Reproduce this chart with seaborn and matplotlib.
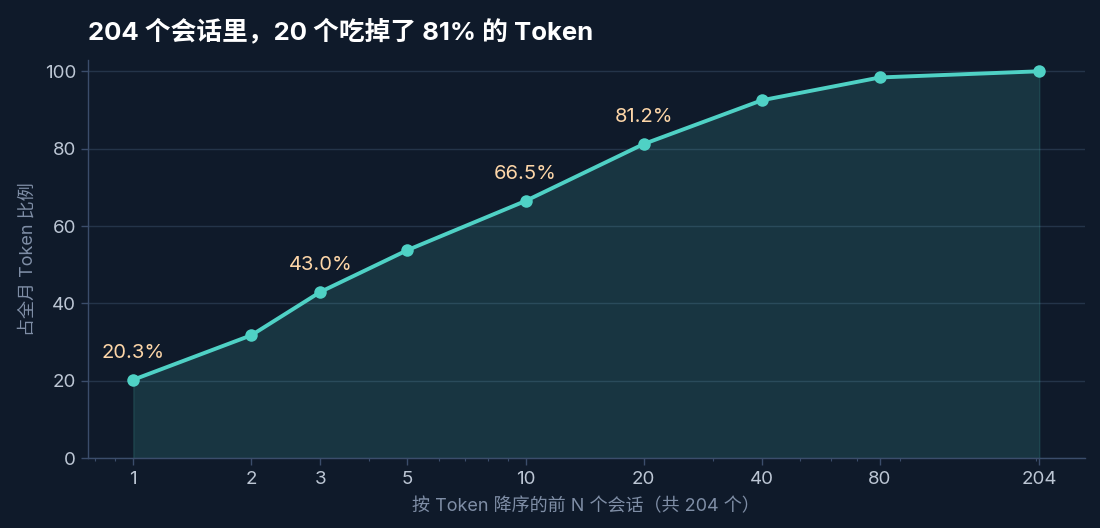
import matplotlib
matplotlib.use("Agg")
import matplotlib.pyplot as plt
import seaborn as sns
import pandas as pd
import numpy as np
from matplotlib.ticker import FixedLocator, FixedFormatter, LogLocator, NullFormatter

top_n = [1, 2, 3, 5, 10, 20, 40, 80, 204]
share = [20.3, 31.8, 43.0, 53.8, 66.5, 81.2, 92.5, 98.4, 100.0]
label_n = [1, 3, 10, 20]
tick_labels = ["1", "2", "3", "5", "10", "20", "40", "80", "204"]

title = "204 个会话里，20 个吃掉了 81% 的 Token"
xlabel = "按 Token 降序的前 N 个会话（共 204 个）"
ylabel = "占全月 Token 比例"

BG = "#0f1a2a"
LINE = "#4fd1c5"
GRID = "#243449"
SPINE = "#3b4d6b"
TICK = "#bcc6d4"
LAB = "#7f8ea6"
ANN = "#fdd6a8"

sns.set_theme(style="dark")
plt.rcParams['font.family'] = ['Inter', 'Noto Sans CJK SC', 'DejaVu Sans']

df = pd.DataFrame({"n": top_n, "share": share})

fig = plt.figure(figsize=(11, 5.28), dpi=100, facecolor=BG)
ax = fig.add_axes([0.08, 0.132, 0.906, 0.755])
ax.set_facecolor(BG)

ax.fill_between(df["n"], 0, df["share"], color=LINE, alpha=0.15, linewidth=1, edgecolor=(0.31, 0.82, 0.77, 0.15))
sns.lineplot(data=df, x="n", y="share", ax=ax, color=LINE, linewidth=2.8,
             marker="o", markersize=9, markeredgewidth=0, markerfacecolor=LINE)

ax.set_xscale("log")
ax.set_ylim(0, 103)
ax.xaxis.set_major_locator(FixedLocator(top_n))
ax.xaxis.set_major_formatter(FixedFormatter(tick_labels))
ax.xaxis.set_minor_locator(LogLocator(base=10, subs=np.arange(2, 10)))
ax.xaxis.set_minor_formatter(NullFormatter())
ax.set_yticks([0, 20, 40, 60, 80, 100])

for n, s in zip(top_n, share):
    if n in label_n:
        ax.annotate(f"{s:.1f}%", (n, s), xytext=(0, 19.5), textcoords="offset points",
                    ha="center", va="center", color=ANN, fontsize=14.5)

ax.grid(axis="y", color=GRID, linewidth=1)
ax.grid(axis="x", visible=False)
for side in ["top", "right"]:
    ax.spines[side].set_visible(False)
for side in ["left", "bottom"]:
    ax.spines[side].set_visible(True)
    ax.spines[side].set_color(SPINE)
    ax.spines[side].set_linewidth(1)

ax.tick_params(axis="both", which="major", colors=TICK, labelsize=13.5, length=5, width=1, color=SPINE, bottom=True, left=True)
ax.tick_params(axis="x", which="minor", length=2.5, width=0.8, color=SPINE, bottom=True)
ax.tick_params(axis="x", which="major", labelcolor=TICK, pad=4)

ax.set_xlabel(xlabel, color=LAB, fontsize=13, labelpad=7)
ax.set_ylabel(ylabel, color=LAB, fontsize=13, labelpad=6)
ax.set_title(title, loc="left", color="white", fontsize=18.5, fontweight="bold", pad=15)

fig.savefig("out.png", dpi=100, facecolor=BG)
